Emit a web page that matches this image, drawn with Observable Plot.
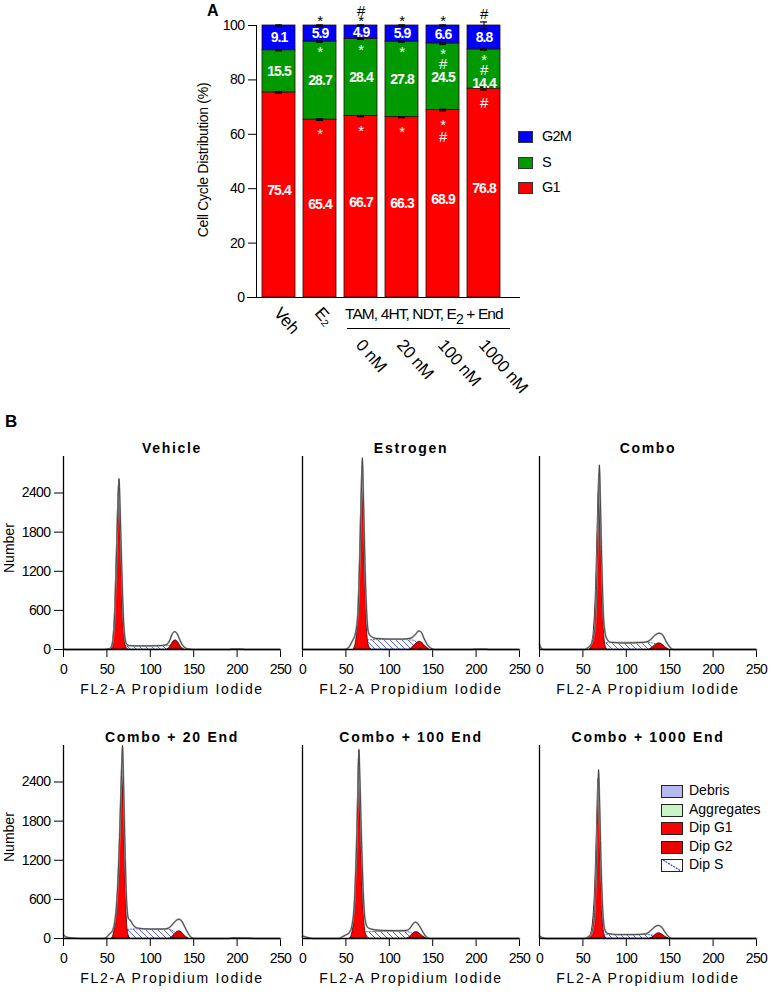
<!DOCTYPE html>
<html><head><meta charset="utf-8">
<script src="https://cdn.jsdelivr.net/npm/d3@7"></script>
<script src="https://cdn.jsdelivr.net/npm/@observablehq/plot@0.6"></script>
<style>
body{margin:0;background:#fff;}
#root{position:relative;width:771px;height:995px;font-family:Arial,"Liberation Sans",sans-serif;color:#000;overflow:hidden;background:#fff}
.abs{position:absolute;white-space:nowrap}
</style></head><body><div id="root">
<svg width="0" height="0" style="position:absolute"><defs>
<pattern id="hatch" patternUnits="userSpaceOnUse" width="6" height="6"><rect width="6" height="6" fill="white"/><path d="M0,0L6,6M-1,5L1,7M5,-1L7,1" stroke="#2f3fd0" stroke-width="0.8"/></pattern>
<linearGradient id="g1grad" x1="0" y1="0" x2="0" y2="1"><stop offset="0" stop-color="#666"/><stop offset="0.07" stop-color="#111"/><stop offset="0.18" stop-color="#900"/><stop offset="0.3" stop-color="#f00"/><stop offset="1" stop-color="#f00"/></linearGradient>
</defs></svg>
</div>
<script>
// ---------- Panel A data ----------
const categories = ["Veh", "E2", "0 nM", "20 nM", "100 nM", "1000 nM"];
const xLabels = ["Veh", "E₂", "0 nM", "20 nM", "100 nM", "1000 nM"];
const phases = ["G1", "S", "G2M"];
const phaseColors = ["#ff0000", "#009a00", "#0000ff"];
const g1Values = [75.4, 65.4, 66.7, 66.3, 68.9, 76.8];
const sValues = [15.5, 28.7, 28.4, 27.8, 24.5, 14.4];
const g2mValues = [9.1, 5.9, 4.9, 5.9, 6.6, 8.8];
const g1Err = [0.3, 0.3, 0.2, 0.2, 0.3, 0.5];
const sErr = [0.2, 0.2, 0.2, 0.2, 0.3, 0.2];
const g2mErr = [0.2, 0.2, 0.2, 0.2, 0.2, 1.3];
const sigTop = ["", "*", "#\n*", "*", "*", "#"];
const sigS = ["", "*", "*", "*", "*\n#", "*\n#"];
const sigG1 = ["", "*", "*", "*", "*\n#", "#"];
const yTicksA = [0, 20, 40, 60, 80, 100];

// ---------- Panel B data ([FL2-A channel, count]) ----------
const panelTitles = ["Vehicle", "Estrogen", "Combo", "Combo + 20 End", "Combo + 100 End", "Combo + 1000 End"];
const histTicksX = [0, 50, 100, 150, 200, 250];
const histTicksY = [0, 600, 1200, 1800, 2400];

const vehicleOutline = [[0,5],[3,0],[45,0],[52,8],[55,40],[57,150],[59,550],[61,1400],[63,2300],[64,2620],[65,2250],[67,1300],[69,500],[71,160],[73,80],[76,60],[90,55],[110,58],[118,70],[122,130],[125,230],[128,275],[131,240],[134,150],[137,70],[141,20],[146,4],[150,0],[190,0],[194,6],[206,6],[210,0],[250,0]];
const vehicleG1 = [[55,0],[57,120],[59,480],[61,1300],[63,2250],[64,2520],[65,2200],[67,1200],[69,420],[71,100],[74,0]];
const vehicleS = [[64,0],[68,30],[72,48],[90,50],[110,52],[122,50],[128,35],[133,10],[136,0]];
const vehicleG2 = [[120,0],[123,40],[126,110],[129,140],[132,110],[135,45],[139,0]];

const estrogenOutline = [[0,0],[48,0],[53,30],[57,120],[61,250],[64,600],[66,1400],[68,2500],[69,2940],[70,2450],[72,1300],[74,550],[76,260],[79,200],[85,170],[100,160],[115,160],[125,175],[130,230],[134,285],[137,260],[140,170],[144,70],[148,20],[153,0],[195,0],[198,5],[212,5],[215,0],[250,0]];
const estrogenG1 = [[59,0],[62,150],[64,500],[66,1300],[68,2400],[69,2800],[70,2350],[72,1200],[74,400],[76,80],[79,0]];
const estrogenS = [[66,0],[71,90],[76,140],[95,145],[115,145],[128,135],[134,80],[139,20],[141,0]];
const estrogenG2 = [[124,0],[128,50],[132,100],[135,120],[138,100],[142,45],[146,0]];

const comboOutline = [[0,80],[2,20],[5,0],[52,0],[56,30],[60,90],[64,350],[66,1100],[68,2200],[69,2830],[70,2350],[72,1200],[74,450],[77,180],[82,110],[100,100],[120,110],[128,150],[133,220],[138,250],[142,220],[146,120],[150,40],[154,0],[250,0]];
const comboG1 = [[58,0],[61,120],[63,350],[65,900],[67,1900],[69,2700],[70,2300],[72,1100],[74,350],[76,60],[78,0]];
const comboS = [[66,0],[72,70],[78,100],[100,105],[120,105],[130,95],[137,60],[143,15],[146,0]];
const comboG2 = [[127,0],[131,40],[135,80],[138,95],[141,80],[145,35],[149,0]];

const combo20Outline = [[0,60],[2,30],[6,15],[12,5],[20,0],[47,0],[50,25],[53,70],[56,110],[59,250],[62,700],[65,1700],[67,2600],[68,2960],[69,2500],[71,1300],[73,500],[75,300],[77,280],[80,210],[85,160],[100,145],[115,145],[121,160],[126,220],[130,280],[133,295],[136,270],[140,170],[144,70],[148,10],[152,0],[190,0],[195,8],[215,5],[220,0],[250,0]];
const combo20G1 = [[56,0],[59,150],[62,550],[65,1500],[67,2450],[68,2750],[69,2350],[71,1100],[73,300],[75,50],[77,0]];
const combo20S = [[64,0],[70,90],[76,135],[90,140],[110,140],[122,135],[128,100],[134,40],[138,0]];
const combo20G2 = [[123,0],[127,45],[130,90],[133,110],[136,95],[140,40],[144,0]];

const combo100Outline = [[0,40],[3,25],[8,10],[12,0],[42,0],[45,20],[50,55],[54,90],[57,200],[60,600],[62,1300],[64,2300],[65,2900],[66,2500],[68,1500],[70,700],[72,300],[75,170],[79,145],[90,125],[110,120],[120,125],[124,160],[127,220],[130,250],[133,225],[137,140],[141,50],[145,5],[148,0],[250,0]];
const combo100G1 = [[55,0],[58,130],[60,450],[62,1100],[64,2200],[65,2750],[66,2350],[68,1300],[70,550],[72,150],[75,0]];
const combo100S = [[62,0],[68,60],[74,95],[90,100],[110,100],[122,95],[128,65],[134,20],[137,0]];
const combo100G2 = [[121,0],[125,40],[128,80],[131,100],[134,85],[139,30],[143,0]];

const combo1000Outline = [[0,40],[3,15],[8,0],[52,0],[56,25],[60,80],[63,300],[65,900],[67,1900],[68,2590],[69,2200],[71,1100],[73,400],[75,150],[78,80],[90,60],[110,60],[122,70],[128,120],[133,180],[137,200],[141,170],[145,90],[149,25],[153,0],[250,0]];
const combo1000G1 = [[57,0],[60,100],[62,300],[64,750],[66,1600],[68,2450],[69,2100],[71,1000],[73,300],[75,50],[77,0]];
const combo1000S = [[64,0],[70,30],[76,50],[100,55],[120,55],[130,45],[137,20],[141,0]];
const combo1000G2 = [[128,0],[132,35],[135,70],[138,80],[141,65],[145,25],[149,0]];

const legendB = ["Debris", "Aggregates", "Dip G1", "Dip G2", "Dip S"];
const legendBFill = ["#b8b8f0", "#c8f5c8", "#ff0000", "#ee0000", "white"];

const FONT = "Arial, 'Liberation Sans', sans-serif";
const root = document.getElementById("root");

function place(el, left, top) {
  el.style.position = "absolute"; el.style.left = left + "px"; el.style.top = top + "px";
  root.appendChild(el);
}
function html(text, left, top, css) {
  const d = document.createElement("div"); d.className = "abs"; d.innerHTML = text;
  d.style.cssText += css || ""; place(d, left, top); return d;
}

// ---------- Panel A ----------
const rows = categories.flatMap((c, i) => [
  {cat: c, phase: "G1", value: g1Values[i]},
  {cat: c, phase: "S", value: sValues[i]},
  {cat: c, phase: "G2M", value: g2mValues[i]}
]);
const errRows = categories.flatMap((c, i) => [
  {cat: c, top: g1Values[i], err: g1Err[i]},
  {cat: c, top: g1Values[i] + sValues[i], err: sErr[i]},
  {cat: c, top: g1Values[i] + sValues[i] + g2mValues[i], err: g2mErr[i]}
]);
const nLines = s => s ? s.split("\n").length : 0;
const labelRows = categories.flatMap((c, i) => {
  const t1 = g1Values[i], t2 = t1 + sValues[i], t3 = t2 + g2mValues[i];
  return [
    {cat: c, y: t1 / 2 + 1.5, text: g1Values[i].toFixed(1)},
    {cat: c, y: Math.min((t1 + t2) / 2, t2 - nLines(sigS[i]) * 3.5 - 5.5), text: sValues[i].toFixed(1)},
    {cat: c, y: (t2 + t3) / 2, text: g2mValues[i].toFixed(1)}
  ];
});
const sigRows = categories.map((c, i) => ({
  cat: c, label: xLabels[i], top: g1Values[i] + sValues[i] + g2mValues[i] + g2mErr[i],
  sTop: g1Values[i] + sValues[i], g1Top: g1Values[i],
  sigTop: sigTop[i], sigS: sigS[i], sigG1: sigG1[i], idx: i
}));
const endsWithStar = d => d.sigTop.endsWith("*");

const barChart = Plot.plot({
  width: 771, height: 400,
  marginLeft: 256, marginRight: 265, marginTop: 25, marginBottom: 103,
  style: {background: "transparent", overflow: "visible", fontFamily: FONT, fontSize: "14px", letterSpacing: "-0.5px", color: "#000"},
  x: {domain: categories, paddingInner: 0.2, paddingOuter: 0.1, axis: null},
  y: {domain: [0, 100], ticks: yTicksA, tickSize: 8, tickPadding: 4, line: true, label: null, tickFormat: d => String(d)},
  color: {domain: phases, range: phaseColors},
  marks: [
    Plot.barY(rows, {x: "cat", y: "value", fill: "phase", stroke: "#2a0a0a", strokeWidth: 0.8}),
    Plot.ruleY([0], {insetLeft: -9, insetRight: -14, strokeWidth: 1.2}),
    Plot.ruleX(errRows, {x: "cat", y1: d => d.top - d.err, y2: d => d.top + d.err, stroke: "#000", strokeWidth: 1}),
    Plot.tickY(errRows, {x: "cat", y: d => d.top + d.err, insetLeft: 13, insetRight: 13, stroke: "#000", strokeWidth: 1.2}),
    Plot.tickY(errRows, {x: "cat", y: d => d.top - d.err, insetLeft: 13, insetRight: 13, stroke: "#000", strokeWidth: 1.2}),
    Plot.text(labelRows, {x: "cat", y: "y", text: "text", fill: "white", fontWeight: "bold", fontSize: 14}),
    Plot.text(sigRows.filter(endsWithStar), {x: "cat", y: "top", text: "sigTop", lineAnchor: "bottom", dy: 1.5, lineHeight: 0.7, fontSize: 15, fill: "#000"}),
    Plot.text(sigRows.filter(d => !endsWithStar(d)), {x: "cat", y: "top", text: "sigTop", lineAnchor: "bottom", dy: -3, lineHeight: 0.7, fontSize: 15, fill: "#000"}),
    Plot.text(sigRows, {x: "cat", y: "sTop", text: "sigS", lineAnchor: "top", dy: 8.5, lineHeight: 0.68, fontSize: 15, fill: "white"}),
    Plot.text(sigRows, {x: "cat", y: "g1Top", text: "sigG1", lineAnchor: "top", dy: 11, lineHeight: 0.8, fontSize: 15, fill: "white"}),
    Plot.text(sigRows.filter(d => d.idx < 2), {x: "cat", text: "label", frameAnchor: "bottom", dy: 8, dx: 3, rotate: 49, textAnchor: "start", lineAnchor: "top", fontSize: 17}),
    Plot.text(sigRows.filter(d => d.idx >= 2), {x: "cat", text: "label", frameAnchor: "bottom", dy: 40, dx: 3, rotate: 49, textAnchor: "start", lineAnchor: "top", fontSize: 17})
  ]
});
barChart.querySelectorAll("text").forEach(t => {
  if (/^\d+\.\d$/.test(t.textContent)) t.style.letterSpacing = "-0.9px";
  if (xLabels.includes(t.textContent)) t.style.letterSpacing = "-0.2px";
});
place(barChart, 0, 0);

// Panel A annotations
html("A", 207, 2, "font-weight:bold;font-size:16px;");
html("Cell Cycle Distribution (%)", 110, 152, "font-size:14px;letter-spacing:-0.3px;width:186px;text-align:center;transform:rotate(-90deg);");
html("TAM, 4HT, NDT, E<span style='font-size:14px;position:relative;top:5px'>2</span> + End", 345, 305, "font-size:15.5px;letter-spacing:-0.9px;");
html("", 347, 328, "width:163px;height:0;border-top:1.4px solid #000;");
const legA = [["G2M", "#0000ff"], ["S", "#009a00"], ["G1", "#ff0000"]];
legA.forEach(([lab, col], i) => {
  html("", 518, 131 + i * 25.5, `width:15px;height:12px;background:${col};border:0.8px solid #333;box-sizing:border-box;`);
  html(lab, 542, 128 + i * 25.5, "font-size:14.5px;letter-spacing:-0.8px;");
});

// ---------- Panel B ----------
html("B", 5, 412, "font-weight:bold;font-size:17px;");

function histogram(title, outline, g1, sPh, g2, showY) {
  const X = d => d[0], Y = d => d[1];
  const curve = "monotone-x";
  const marks = [
    Plot.areaY(sPh, {x: X, y: Y, fill: "url(#hatch)", stroke: "#3040c0", strokeWidth: 0.8, strokeDasharray: "1.5,1.5", curve}),
    Plot.areaY(g1, {x: X, y: Y, fill: "url(#g1grad)", stroke: "#300", strokeWidth: 0.8, curve}),
    Plot.areaY(g2, {x: X, y: Y, fill: "#dd0000", stroke: "#400", strokeWidth: 0.8, curve}),
    Plot.line(outline, {x: X, y: Y, stroke: "#a0a0a0", strokeWidth: 1.8, curve}),
    Plot.line(outline, {x: X, y: Y, stroke: "#333", strokeWidth: 0.8, curve}),
    Plot.ruleY([0], {stroke: "#000", strokeWidth: 1.3}),
    Plot.ruleX([0], {stroke: "#000", strokeWidth: 1.3}),
    Plot.text([title], {text: d => d, frameAnchor: "top", dy: -13, fontWeight: "bold", fontSize: 14}),
    Plot.text(["FL2-A Propidium Iodide"], {text: d => d, frameAnchor: "bottom", dy: 44, fontSize: 14})
  ];
  if (showY) marks.push(Plot.text(["Number"], {text: d => d, frameAnchor: "left", dx: -54, dy: 20, rotate: -90, fontSize: 14}));
  const svg = Plot.plot({
    width: 287, height: 278,
    marginLeft: 60, marginRight: 10, marginTop: 30, marginBottom: 55,
    style: {background: "transparent", overflow: "visible", fontFamily: FONT, fontSize: "14px", letterSpacing: "-0.6px", color: "#000"},
    x: {domain: [0, 250], ticks: histTicksX, tickSize: 8, tickPadding: 7, label: null, tickFormat: d => String(d)},
    y: showY
      ? {domain: [0, 2960], ticks: histTicksY, tickSize: 9, tickPadding: 4, label: null, tickFormat: d => String(d)}
      : {domain: [0, 2960], axis: null},
    marks
  });
  svg.querySelectorAll("text").forEach(t => {
    if (t.textContent === title || t.textContent === "FL2-A Propidium Iodide") t.style.letterSpacing = "1.7px";
    if (t.textContent === "Number") t.style.letterSpacing = "0px";
  });
  return svg;
}

const panels = [
  [vehicleOutline, vehicleG1, vehicleS, vehicleG2],
  [estrogenOutline, estrogenG1, estrogenS, estrogenG2],
  [comboOutline, comboG1, comboS, comboG2],
  [combo20Outline, combo20G1, combo20S, combo20G2],
  [combo100Outline, combo100G1, combo100S, combo100G2],
  [combo1000Outline, combo1000G1, combo1000S, combo1000G2]
];
const colAxisX = [63, 302, 539];
const rowAxisTop = [456, 745];
panels.forEach((p, i) => {
  const col = i % 3, row = Math.floor(i / 3);
  const svg = histogram(panelTitles[i], p[0], p[1], p[2], p[3], col === 0);
  place(svg, colAxisX[col] - 60, rowAxisTop[row] - 30);
});

// Legend for panel B
legendB.forEach((lab, i) => {
  const y = 785 + i * 18.5;
  const sw = html("", 661, y, `width:22px;height:13px;background:${legendBFill[i]};border:1.3px solid #222;box-sizing:border-box;`);
  if (lab === "Dip S") sw.innerHTML = "<svg width='20' height='11' style='position:absolute;left:0;top:0'><line x1='1' y1='0' x2='19' y2='11' stroke='#2f3fd0' stroke-width='1.2' stroke-dasharray='2,1'/></svg>";
  html(lab, 689, y - 3, "font-size:14px;");
});
</script></body></html>
